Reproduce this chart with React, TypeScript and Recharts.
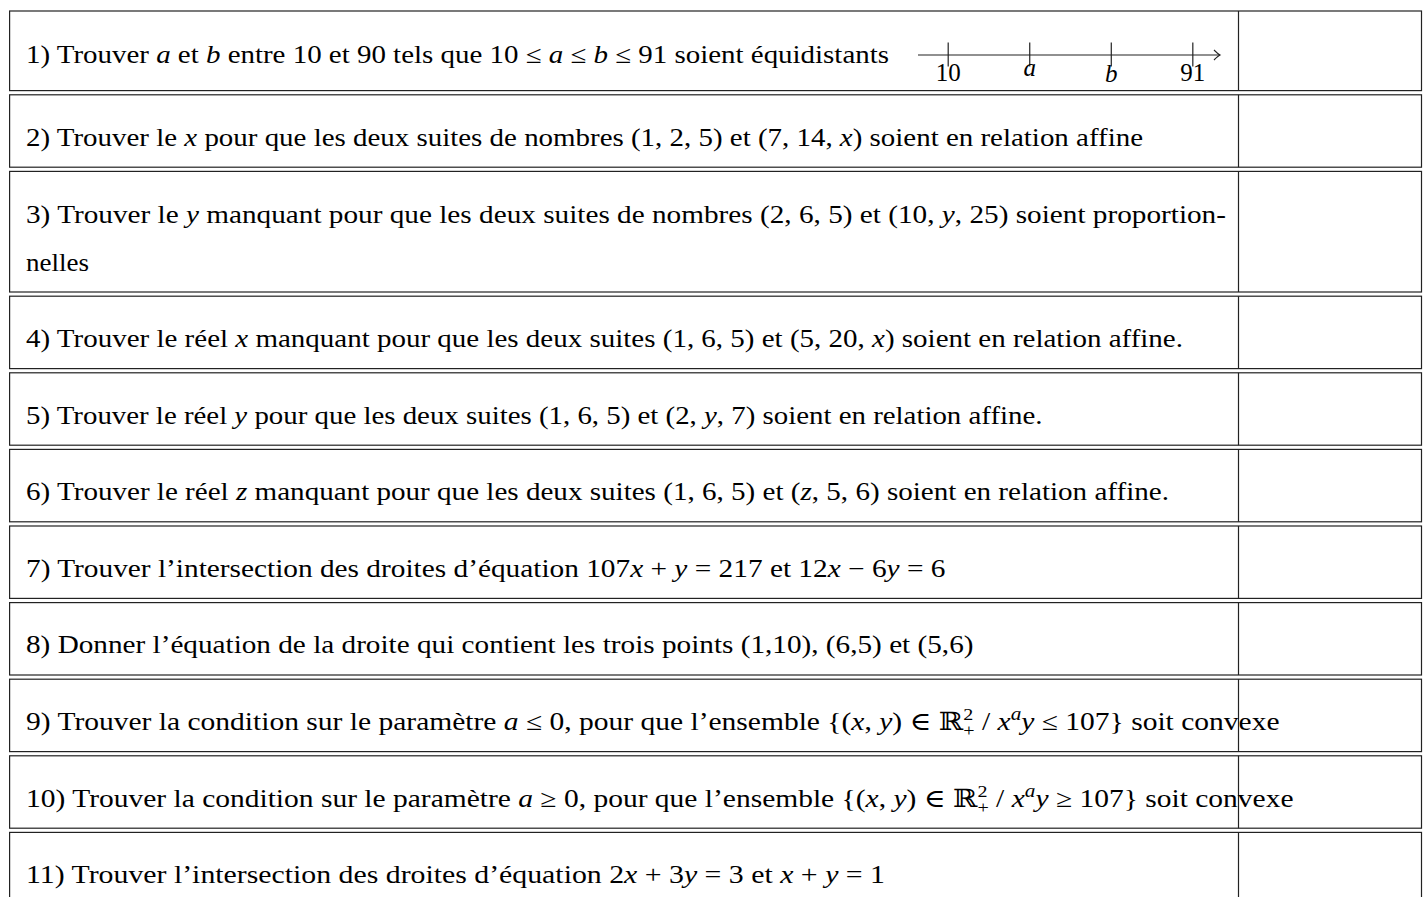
import React from "react";
import { ScatterChart, Scatter, XAxis, YAxis, ReferenceDot } from "recharts";

// number line in question 1
const LINE_DOMAIN = [0, 100];
const TICK_VALUES = [10, 37, 64, 91];
const TICK_LABELS = ["10", "a", "b", "91"];

// question texts, $...$ marks math (letters in italic, ^ sup, ^2_+ stacked)
const QUESTIONS = [
  ["1) Trouver $a$ et $b$ entre 10 et 90 tels que $10 ≤ a ≤ b ≤ 91$ soient équidistants"],
  ["2) Trouver le $x$ pour que les deux suites de nombres $(1, 2, 5)$ et $(7, 14, x)$ soient en relation affine"],
  [
    "3) Trouver le $y$ manquant pour que les deux suites de nombres $(2, 6, 5)$ et $(10, y, 25)$ soient proportion-",
    "nelles",
  ],
  ["4) Trouver le réel $x$ manquant pour que les deux suites $(1, 6, 5)$ et $(5, 20, x)$ soient en relation affine."],
  ["5) Trouver le réel $y$ pour que les deux suites $(1, 6, 5)$ et $(2, y, 7)$ soient en relation affine."],
  ["6) Trouver le réel $z$ manquant pour que les deux suites $(1, 6, 5)$ et $(z, 5, 6)$ soient en relation affine."],
  ["7) Trouver l’intersection des droites d’équation $107x + y = 217$ et $12x − 6y = 6$"],
  ["8) Donner l’équation de la droite qui contient les trois points (1,10), (6,5) et (5,6)"],
  ["9) Trouver la condition sur le paramètre $a ≤ 0$, pour que l’ensemble ${(x, y) ∈ ℝ^2_+ / x^ay ≤ 107}$ soit convexe"],
  ["10) Trouver la condition sur le paramètre $a ≥ 0$, pour que l’ensemble ${(x, y) ∈ ℝ^2_+ / x^ay ≥ 107}$ soit convexe"],
  ["11) Trouver l’intersection des droites d’équation $2x + 3y = 3$ et $x + y = 1$"],
];

// layout
const FONT = "'Liberation Serif', 'DejaVu Serif', serif";
const FS = 25;
const LEFT = 9.6;
const RIGHT = 1421.5;
const DIVIDER = 1238.5;
const TEXT_X = 26;
const ROW_H = [79.6, 72.4, 120.6, 72.4, 72.4, 72.4, 72.4, 72.4, 72.4, 72.4, 72.4];
const GAP = 4.2;
const FIRST_TOP = 11;
const BASE_OFF = [52, 50.8, 51.5, 50.8, 50.8, 50.8, 50.8, 50.8, 50.8, 50.8, 50.8];
const LINE_GAP = 48;
// right end of each text line (ink), used to stretch to the same width
const LINE_END = [[889], [1143], [1226, 89], [1183], [1042.5], [1169], [945.5], [973.5], [1279.5], [1293.5], [885]];

type Seg = { t: string; italic?: boolean; kind?: "sup" | "supsub"; sub?: string };

function parse(line: string): Seg[] {
  const segs: Seg[] = [];
  let math = false;
  for (let i = 0; i < line.length; i++) {
    const c = line[i];
    if (c === "$") {
      math = !math;
      continue;
    }
    if (math && c === "^") {
      const sup = line[i + 1];
      i++;
      if (line[i + 1] === "_") {
        segs.push({ t: sup, kind: "supsub", sub: line[i + 2] });
        i += 2;
      } else {
        segs.push({ t: sup, kind: "sup", italic: /[a-z]/i.test(sup) });
      }
      continue;
    }
    const italic = math && /[a-zA-Z]/.test(c);
    const last = segs[segs.length - 1];
    if (last && !last.kind && !!last.italic === italic) last.t += c;
    else segs.push({ t: c, italic });
  }
  return segs;
}

function RichLine({ text, x, y, end }: { text: string; x: number; y: number; end: number }) {
  const segs = parse(text);
  let cur = 0;
  const out: React.ReactNode[] = [];
  segs.forEach((s, k) => {
    if (s.kind === "sup") {
      out.push(
        <tspan key={k} dy={-10 - cur} fontSize={18} fontStyle={s.italic ? "italic" : "normal"}>
          {s.t}
        </tspan>
      );
      cur = -10;
    } else if (s.kind === "supsub") {
      out.push(
        <tspan key={k + "a"} dy={-10 - cur} fontSize={17}>
          {s.t}
        </tspan>
      );
      out.push(
        <tspan key={k + "b"} dx={-8.5} dy={16} fontSize={17}>
          {s.sub}
        </tspan>
      );
      cur = 6;
    } else {
      out.push(
        <tspan key={k} dy={-cur} fontStyle={s.italic ? "italic" : "normal"}>
          {s.t}
        </tspan>
      );
      cur = 0;
    }
  });
  return (
    <text
      x={x}
      y={y}
      fontFamily={FONT}
      fontSize={FS}
      fill="#000"
      textLength={end - x}
      lengthAdjust="spacingAndGlyphs"
      style={{ whiteSpace: "pre" }}
    >
      {out}
    </text>
  );
}

function LabelTick(props: any) {
  const { x, y, payload } = props;
  const i = TICK_VALUES.indexOf(payload.value);
  const label = TICK_LABELS[i] ?? String(payload.value);
  const isLetter = /[a-z]/i.test(label);
  const dy = !isLetter ? 25.5 : /[bdfhklt]/.test(label) ? 27 : 20.5;
  return (
    <text
      x={x}
      y={y + dy}
      textAnchor="middle"
      fontFamily={FONT}
      fontSize={FS}
      fontStyle={isLetter ? "italic" : "normal"}
      fill="#000"
    >
      {label}
    </text>
  );
}

function TickMark(props: any) {
  const { cx, cy } = props;
  return <line x1={cx} x2={cx} y1={cy - 12.5} y2={cy + 11.5} stroke="#222" strokeWidth={1.2} />;
}

function Arrowhead(props: any) {
  const { cx, cy } = props;
  return (
    <path
      d={`M${cx - 6},${cy - 5} Q${cx - 2},${cy - 1} ${cx},${cy} Q${cx - 2},${cy + 1} ${cx - 6},${cy + 5}`}
      fill="none"
      stroke="#222"
      strokeWidth={1.1}
    />
  );
}

function NumberLine() {
  const points = TICK_VALUES.map((v) => ({ x: v, y: 0 }));
  return (
    <ScatterChart width={306} height={62} margin={{ top: 0, right: 4, bottom: 0, left: 0 }}>
      <XAxis
        type="number"
        dataKey="x"
        domain={LINE_DOMAIN}
        ticks={TICK_VALUES}
        interval={0}
        tickLine={false}
        tickSize={0}
        tickMargin={0}
        height={32}
        axisLine={{ stroke: "#222", strokeWidth: 1.2 }}
        tick={<LabelTick />}
      />
      <YAxis type="number" dataKey="y" domain={[0, 1]} hide />
      <Scatter data={points} shape={TickMark} isAnimationActive={false} />
      <ReferenceDot x={100} y={0} r={0} shape={Arrowhead} ifOverflow="visible" />
    </ScatterChart>
  );
}

export default function App() {
  const tops: number[] = [];
  let t = FIRST_TOP;
  ROW_H.forEach((h) => {
    tops.push(t);
    t += h + GAP;
  });

  return (
    <div style={{ position: "absolute", left: 0, top: 0, width: 1424, height: 897, background: "#fff", overflow: "hidden" }}>
      <svg width={1424} height={897} style={{ position: "absolute", left: 0, top: 0 }}>
        {ROW_H.map((h, i) => (
          <g key={i}>
            <rect x={LEFT} y={tops[i]} width={RIGHT - LEFT} height={h} fill="none" stroke="#222" strokeWidth={1.2} />
            <line x1={DIVIDER} x2={DIVIDER} y1={tops[i]} y2={tops[i] + h} stroke="#222" strokeWidth={1.2} />
          </g>
        ))}
        {QUESTIONS.map((lines, i) =>
          lines.map((ln, j) => (
            <RichLine key={i + "-" + j} text={ln} x={TEXT_X} y={tops[i] + BASE_OFF[i] + j * LINE_GAP} end={LINE_END[i][j]} />
          ))
        )}
      </svg>
      <div style={{ position: "absolute", left: 918.3, top: 24.5 }}>
        <NumberLine />
      </div>
    </div>
  );
}
